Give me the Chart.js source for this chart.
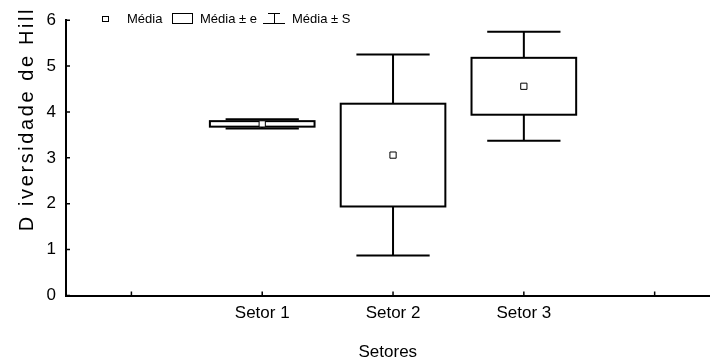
<!DOCTYPE html>
<html>
<head>
<meta charset="utf-8">
<script src="https://cdn.jsdelivr.net/npm/chart.js@4"></script>
<style>
  html, body { margin: 0; padding: 0; background: #fff; }
  #wrap { width: 715px; height: 364px; }
</style>
</head>
<body>
<div id="wrap"><canvas id="boxchart"></canvas></div>
<script>
// categorias do eixo x (posições 0..4, só 1..3 têm dados)
const categories = ['', 'Setor 1', 'Setor 2', 'Setor 3', ''];
const means = [3.74, 3.06, 4.56];   // Média
const se = [0.06, 1.12, 0.62];      // Média ± e
const sd = [0.10, 2.19, 1.19];      // Média ± S
const yTicks = [0, 1, 2, 3, 4, 5, 6];

const FONT = 'Liberation Sans, Arial, sans-serif';

const boxPlugin = {
  id: 'boxes',
  beforeDatasetsDraw(chart) {
    const {ctx, scales: {x, y}} = chart;
    const boxHalf = x.getPixelForValue(0.4) - x.getPixelForValue(0);
    const capHalf = x.getPixelForValue(0.28) - x.getPixelForValue(0);
    ctx.save();
    ctx.strokeStyle = '#000';
    ctx.lineWidth = 2;
    means.forEach((m, i) => {
      const cx = x.getPixelForValue(i + 1);
      const top = y.getPixelForValue(m + sd[i]);
      const bot = y.getPixelForValue(m - sd[i]);
      // whiskers
      ctx.beginPath();
      ctx.moveTo(cx, top); ctx.lineTo(cx, bot);
      ctx.moveTo(cx - capHalf, top); ctx.lineTo(cx + capHalf, top);
      ctx.moveTo(cx - capHalf, bot); ctx.lineTo(cx + capHalf, bot);
      ctx.stroke();
      // box
      const bt = y.getPixelForValue(m + se[i]);
      const bb = y.getPixelForValue(m - se[i]);
      ctx.fillStyle = '#fff';
      ctx.fillRect(cx - boxHalf, bt, boxHalf * 2, bb - bt);
      ctx.strokeRect(cx - boxHalf, bt, boxHalf * 2, bb - bt);
    });
    ctx.restore();
  },
  afterDraw(chart) {
    const {ctx, chartArea, scales: {x, y}} = chart;
    ctx.save();
    ctx.strokeStyle = '#000';
    ctx.lineWidth = 1.5;
    ctx.beginPath();
    // marcas para dentro
    y.ticks.forEach(t => {
      const py = y.getPixelForValue(t.value);
      ctx.moveTo(chartArea.left, py); ctx.lineTo(chartArea.left + 4, py);
    });
    x.ticks.forEach(t => {
      const px = x.getPixelForValue(t.value);
      ctx.moveTo(px, chartArea.bottom); ctx.lineTo(px, chartArea.bottom - 4);
    });
    ctx.stroke();

    // título do eixo y
    ctx.fillStyle = '#000';
    ctx.font = '20px ' + FONT;
    ctx.letterSpacing = '2.6px';
    ctx.translate(33, 119);
    ctx.rotate(-Math.PI / 2);
    ctx.textAlign = 'center';
    ctx.textBaseline = 'alphabetic';
    ctx.fillText('D iversidade de Hill', 0, 0);
    ctx.restore();

    // legenda
    ctx.save();
    ctx.strokeStyle = '#000';
    ctx.fillStyle = '#000';
    ctx.lineWidth = 1;
    ctx.font = '13px ' + FONT;
    ctx.textBaseline = 'middle';
    ctx.strokeRect(102.5, 16.5, 6, 5);
    ctx.fillText('Média', 127, 19);
    ctx.strokeRect(172.5, 13.5, 20, 10);
    ctx.fillText('Média ± e', 200, 19);
    ctx.beginPath();
    ctx.moveTo(263, 23.5); ctx.lineTo(285, 23.5);
    ctx.moveTo(268, 13.5); ctx.lineTo(280, 13.5);
    ctx.moveTo(274.5, 13.5); ctx.lineTo(274.5, 23.5);
    ctx.stroke();
    ctx.fillText('Média ± S', 292, 19);
    ctx.restore();
  }
};

new Chart(document.getElementById('boxchart'), {
  type: 'scatter',
  data: {
    datasets: [{
      label: 'Média',
      data: means.map((m, i) => ({x: i + 1, y: m})),
      pointStyle: 'rect',
      pointRadius: 4.4,
      pointBackgroundColor: '#fff',
      pointBorderColor: '#000',
      pointBorderWidth: 1
    }]
  },
  options: {
    responsive: true,
    maintainAspectRatio: false,
    animation: false,
    layout: { padding: { top: 12, right: 2, left: 0, bottom: 0 } },
    plugins: {
      legend: { display: false },
      tooltip: { enabled: false }
    },
    scales: {
      x: {
        type: 'linear',
        min: -0.5,
        max: 4.42,
        afterFit: s => { s.height = 68.5; },
        afterBuildTicks: s => { s.ticks = categories.map((c, i) => ({value: i})); },
        grid: { display: false, drawTicks: false },
        border: { display: true, color: '#000', width: 2 },
        ticks: {
          color: '#000',
          font: { family: FONT, size: 17 },
          padding: 8,
          maxRotation: 0,
          callback: v => categories[v]
        },
        title: {
          display: true,
          text: 'Setores',
          color: '#000',
          font: { family: FONT, size: 17 },
          padding: { top: 0, bottom: 1 }
        }
      },
      y: {
        min: 0,
        max: 6,
        afterFit: s => { s.width = 66; },
        afterBuildTicks: s => { s.ticks = yTicks.map(v => ({value: v})); },
        grid: { display: false, drawTicks: false },
        border: { display: true, color: '#000', width: 2 },
        ticks: {
          color: '#000',
          font: { family: FONT, size: 17 },
          padding: 10
        }
      }
    }
  },
  plugins: [boxPlugin]
});
</script>
</body>
</html>
